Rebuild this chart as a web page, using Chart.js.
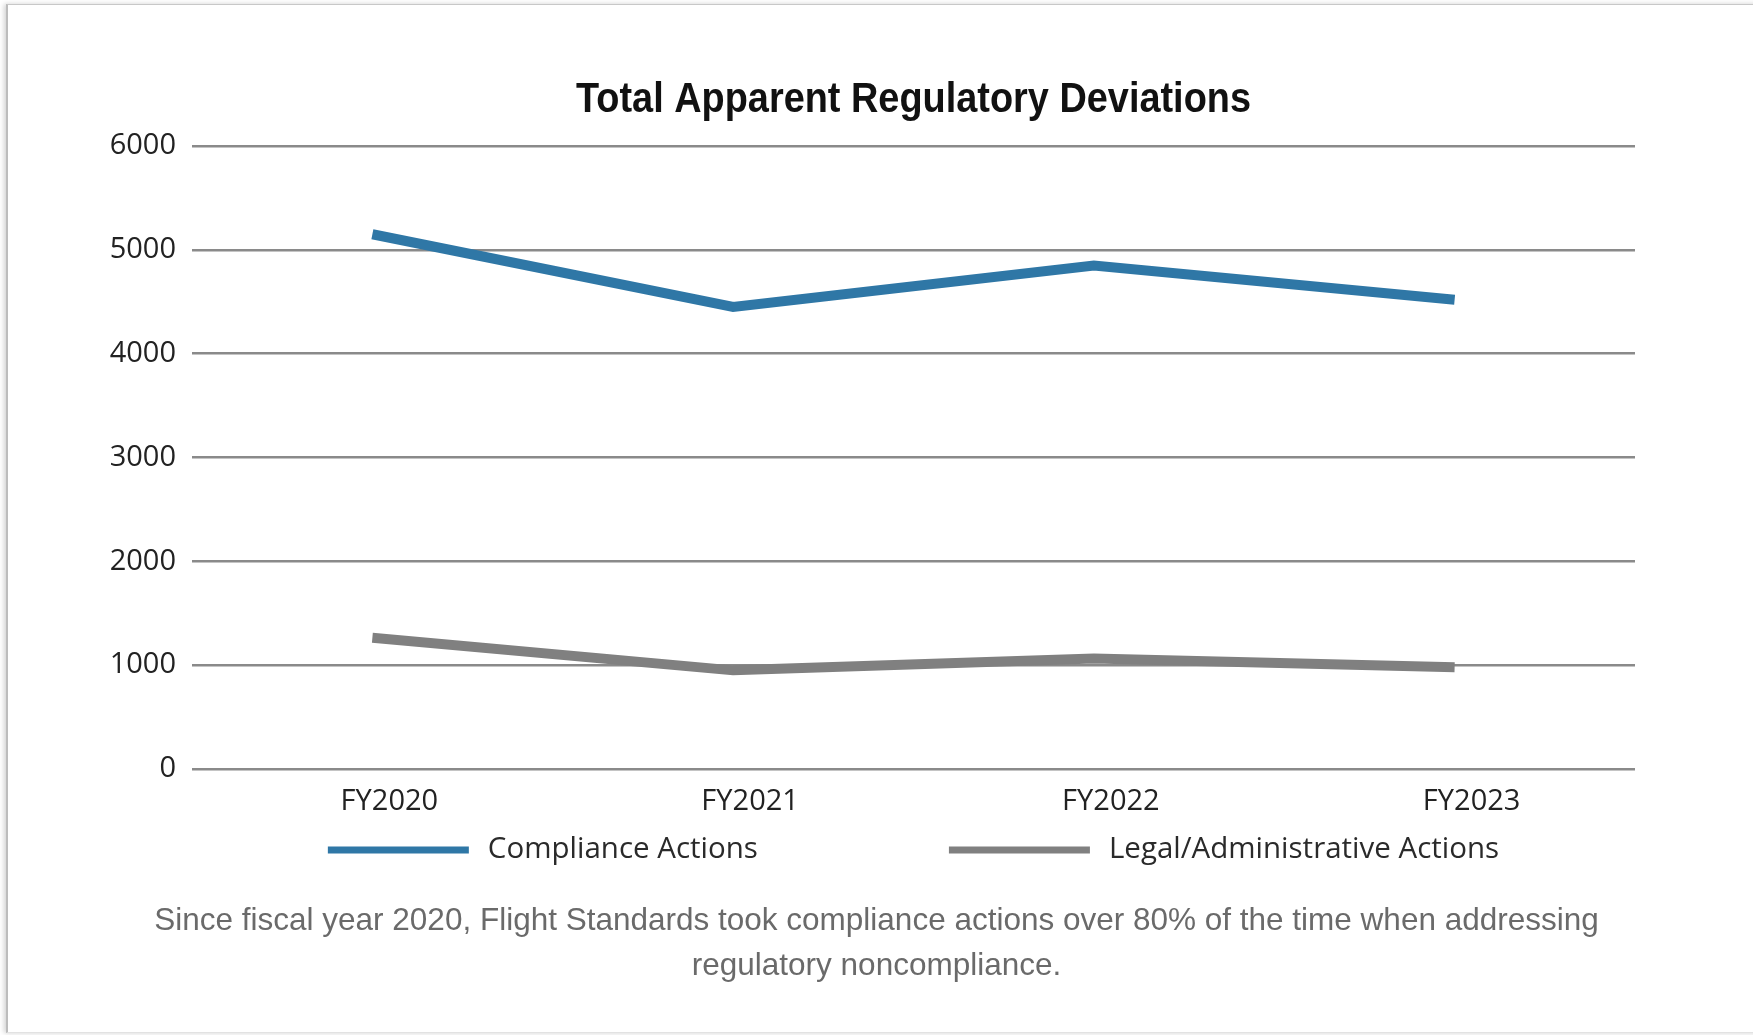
<!DOCTYPE html>
<html>
<head>
<meta charset="utf-8">
<title>Total Apparent Regulatory Deviations</title>
<script src="https://cdn.jsdelivr.net/npm/chart.js@4"></script>
<style>
  html, body { margin: 0; padding: 0; background: #fff; overflow: hidden; }
  #wrap { position: relative; width: 1753px; height: 1035px; }
  canvas { position: absolute; left: 0; top: 0; }
  #frame {
    position: absolute; left: 6px; top: 4px; width: 1800px; height: 1027px;
    border-left: 2px solid #bcbcbc; border-top: 1px solid #c8c8c8; border-bottom: 1px solid #e2e2e2;
    box-shadow: -2px 0 5px rgba(0, 0, 0, 0.18);
    pointer-events: none;
  }
</style>
</head>
<body>
<div id="wrap">
  <canvas id="deviationsChart" width="1753" height="1035"></canvas>
  <div id="frame"></div>
</div>
<script>
const fiscalYears = ['FY2020', 'FY2021', 'FY2022', 'FY2023'];
const complianceActions = [5150, 4450, 4850, 4520];
const legalActions = [1265, 950, 1065, 980];
const yTicks = [0, 1000, 2000, 3000, 4000, 5000, 6000];
const chartTitle = 'Total Apparent Regulatory Deviations';
const caption = [
  'Since fiscal year 2020, Flight Standards took compliance actions over 80% of the time when addressing',
  'regulatory noncompliance.'
];

const labelFont = '"Open Sans", "Noto Sans", sans-serif';

// condensed bold title: no narrow face installed, so squeeze a regular bold one
const condensedTitle = {
  id: 'condensedTitle',
  afterDraw(chart) {
    const { ctx, chartArea } = chart;
    const targetWidth = 675;
    ctx.save();
    ctx.font = 'bold 43px "Liberation Sans", Arial, sans-serif';
    const w = ctx.measureText(chartTitle).width;
    ctx.translate((chartArea.left + chartArea.right) / 2, 112);
    ctx.scale(Math.min(1, targetWidth / w), 1);
    ctx.textAlign = 'center';
    ctx.textBaseline = 'alphabetic';
    ctx.fillStyle = '#111';
    ctx.fillText(chartTitle, 0, 0);
    ctx.restore();
  }
};

// legend drawn by hand: the built-in one can't space items this far apart
const lineLegend = {
  id: 'lineLegend',
  afterDraw(chart) {
    const { ctx, chartArea } = chart;
    const swatch = 141, gapText = 19, gapItem = 191;
    ctx.save();
    ctx.font = '29.5px ' + labelFont;
    const items = chart.data.datasets.map(ds => ({
      label: ds.label,
      color: ds.borderColor,
      w: ctx.measureText(ds.label).width
    }));
    const total = items.reduce((s, it) => s + swatch + gapText + it.w, 0) + gapItem * (items.length - 1);
    let x = (chartArea.left + chartArea.right) / 2 - total / 2;
    const y = chartArea.bottom + 81;
    ctx.textBaseline = 'middle';
    items.forEach(it => {
      ctx.strokeStyle = it.color;
      ctx.lineWidth = 7;
      ctx.beginPath();
      ctx.moveTo(x, y);
      ctx.lineTo(x + swatch, y);
      ctx.stroke();
      x += swatch + gapText;
      ctx.fillStyle = '#2a2a2a';
      ctx.fillText(it.label, x, y);
      x += it.w + gapItem;
    });
    ctx.restore();
  }
};

new Chart(document.getElementById('deviationsChart'), {
  type: 'line',
  data: {
    labels: fiscalYears,
    datasets: [
      {
        label: 'Compliance Actions',
        data: complianceActions,
        borderColor: '#2f77a6',
        borderWidth: 10,
        pointRadius: 0,
        fill: false
      },
      {
        label: 'Legal/Administrative Actions',
        data: legalActions,
        borderColor: '#808080',
        borderWidth: 10,
        pointRadius: 0,
        fill: false
      }
    ]
  },
  options: {
    responsive: false,
    animation: false,
    layout: { padding: { top: 146, left: 0, right: 0, bottom: 0 } },
    plugins: {
      legend: { display: false },
      tooltip: { enabled: false },
      subtitle: {
        display: true,
        position: 'bottom',
        text: caption,
        color: '#6a6a6a',
        font: { family: '"Liberation Sans", Arial, sans-serif', size: 31.5, lineHeight: 45 / 31.5 },
        padding: { top: 79.5, bottom: 46.5 }
      }
    },
    scales: {
      x: {
        offset: true,
        grid: { display: false, drawTicks: false },
        border: { display: false },
        ticks: { color: '#222', padding: 15, labelOffset: 17, font: { family: labelFont, size: 29 } },
        afterFit(scale) { scale.height = 50; }
      },
      y: {
        min: 0,
        max: 6000,
        afterBuildTicks(scale) { scale.ticks = yTicks.map(v => ({ value: v })); },
        grid: { color: '#8a8a8a', lineWidth: 2.5, drawTicks: false },
        border: { display: false },
        ticks: { color: '#222', padding: 16, font: { family: labelFont, size: 29 }, callback: v => String(v) },
        afterFit(scale) { scale.width = 192; }
      },
      yRight: {
        position: 'right',
        grid: { display: false, drawTicks: false },
        border: { display: false },
        ticks: { display: false },
        afterFit(scale) { scale.width = 118; }
      }
    }
  },
  plugins: [condensedTitle, lineLegend]
});
</script>
</body>
</html>
